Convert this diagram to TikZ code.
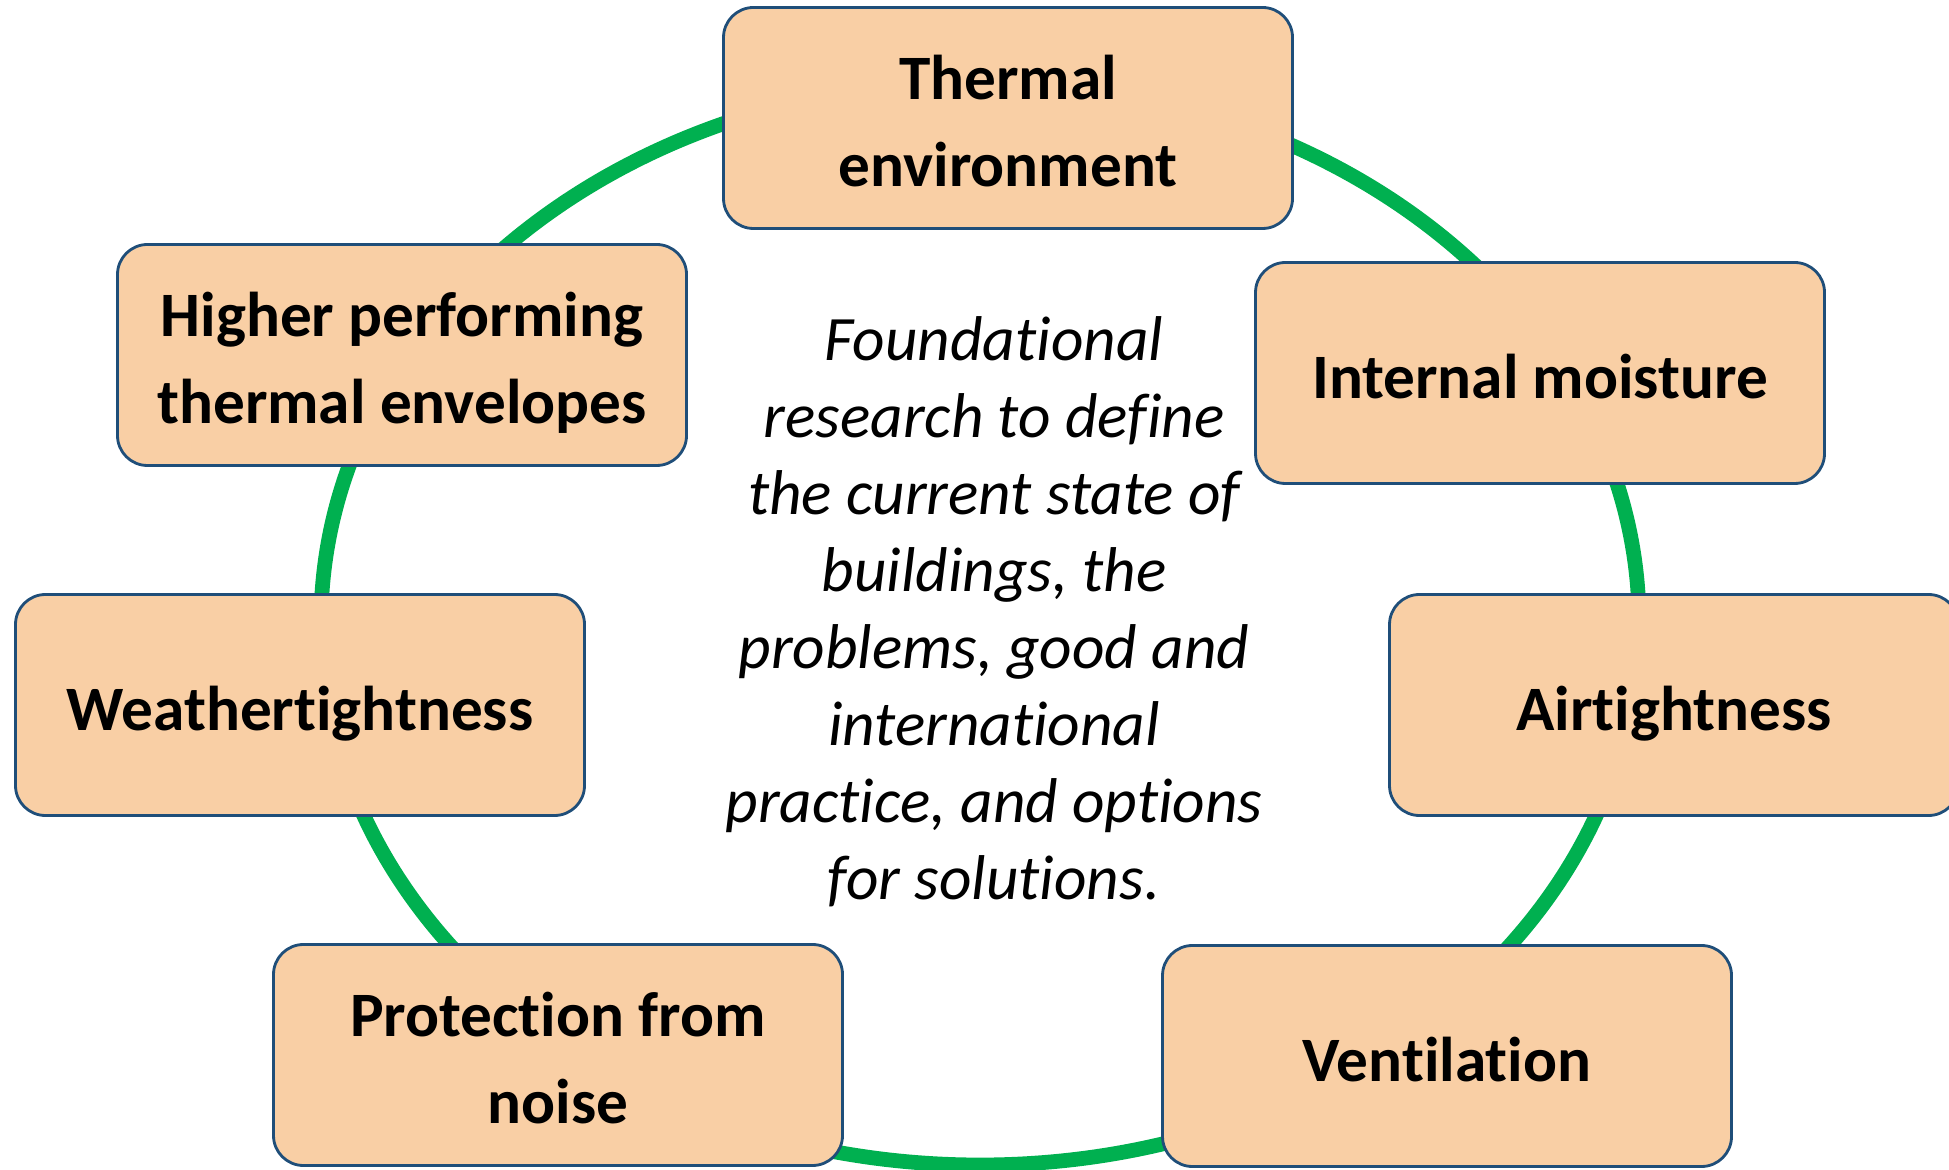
\documentclass[tikz,border=0pt]{standalone}
\usepackage{fontspec}
\setmainfont{Carlito}[RawFeature={-liga;-clig;-calt;-dlig}]
\definecolor{boxfill}{HTML}{F9CFA5}
\definecolor{boxline}{HTML}{1F4E79}
\definecolor{ringgreen}{HTML}{00B050}
% fixed line height so every label sits the same way in its box
\newcommand{\lnstrut}{\rule[-0.2em]{0pt}{1.2em}}
\tikzset{
  topic/.style={draw=boxline, line width=0.8pt, fill=boxfill, rounded corners=0.3cm,
    minimum width=5.69cm, minimum height=2.21cm, align=center,
    font=\bfseries\fontsize{18}{24.7}\selectfont},
  ring/.style={draw=ringgreen, line width=4.2pt}
}

\begin{document}
\begin{tikzpicture}
  \useasboundingbox (0,0) rectangle (19.49,11.69);
  % green ring behind the boxes
  \draw[ring] (9.80,5.46) ellipse (6.59cm and 5.42cm);
  \node[topic] (thermal) at (10.08,10.51) {\lnstrut Thermal\\\lnstrut environment};
  \node[topic] (moisture) at (15.40,7.96) {\lnstrut Internal moisture};
  \node[topic] (airtight) at (16.74,4.64) {\lnstrut Airtightness};
  \node[topic] (vent) at (14.47,1.13) {\lnstrut Ventilation};
  \node[topic] (noise) at (5.58,1.14) {\lnstrut Protection from\\\lnstrut noise};
  \node[topic] (weather) at (3.00,4.64) {\lnstrut Weathertightness};
  \node[topic] (envelope) at (4.02,8.14) {\lnstrut Higher performing\\\lnstrut thermal envelopes};
  % text in the middle
  \node[align=center, font=\itshape\fontsize{18}{21.9}\selectfont] (centre) at (9.94,5.57)
    {Foundational\\research to define\\the current state of\\buildings, the\\problems, good and\\international\\practice, and options\\for solutions.};
\end{tikzpicture}
\end{document}
